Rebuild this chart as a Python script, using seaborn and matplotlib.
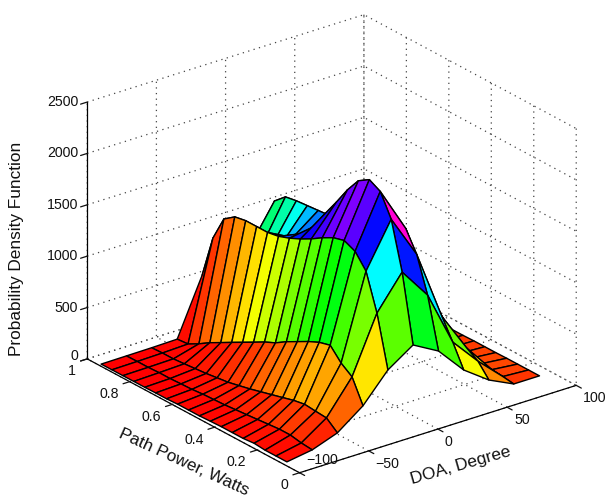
import numpy as np
import matplotlib
matplotlib.use("Agg")
import matplotlib.pyplot as plt
from matplotlib.ticker import FixedLocator, NullFormatter
from mpl_toolkits.mplot3d import proj3d
import seaborn as sns

doa = [-98, -79.7, -61.5, -43, -25, -6.8, 11.6, 29.8, 48, 66, 84.6]
power = [0.075, 0.1265, 0.178, 0.2295, 0.281, 0.3325, 0.384, 0.4355, 0.487, 0.5385,
         0.59, 0.6415, 0.693, 0.7445, 0.796, 0.8475, 0.899, 0.95]
col0 = [19, 19, 19, 29, 19, 19, 19, 15, 10, 10, 10, 5, 5, 3, 3, 2, 2, 1]
col1 = [58, 68, 88, 88, 78, 68, 58, 49, 39, 34, 29, 19, 15, 10, 10, 5, 5, 3]
col2 = [146, 234, 243, 253, 234, 204, 175, 146, 117, 92, 68, 54, 39, 29, 19, 10, 10, 5]
col3 = [331, 555, 632, 749, 720, 671, 613, 555, 487, 438, 379, 321, 263, 204, 146, 78, 19, 10]
col4 = [603, 1099, 1450, 1586, 1635, 1605, 1547, 1479, 1421, 1372, 1333, 1314, 1314, 1314, 1294, 1216, 973, 555]
col5 = [769, 1421, 1878, 2092, 2150, 2082, 1936, 1761, 1596, 1411, 1284, 1187, 1070, 973, 895, 856, 584, 292]
col6 = [632, 1119, 1460, 1654, 1674, 1605, 1537, 1479, 1430, 1411, 1382, 1372, 1362, 1352, 1333, 1236, 876, 438]
col7 = [370, 584, 778, 924, 973, 973, 924, 876, 827, 778, 730, 681, 632, 584, 487, 389, 243, 97]
col8 = [195, 321, 389, 389, 370, 341, 311, 292, 272, 253, 234, 214, 195, 175, 136, 97, 58, 29]
col9 = [80, 95, 105, 105, 100, 90, 85, 80, 75, 70, 65, 60, 55, 50, 45, 39, 29, 19]
col10 = [80, 80, 80, 80, 78, 78, 78, 75, 75, 70, 65, 60, 55, 50, 40, 30, 20, 10]
x_ticks = [-100, -50, 0, 50, 100]
x_tick_labels = ["\u2212100", "\u221250", "0", "50", "100"]
y_ticks = [0, 0.2, 0.4, 0.6, 0.8, 1]
y_tick_labels = ["0", "0.2", "0.4", "0.6", "0.8", "1"]
z_ticks = [0, 500, 1000, 1500, 2000, 2500]
z_tick_labels = ["0", "500", "1000", "1500", "2000", "2500"]

sns.set_style("white")
plt.rcParams["font.family"] = ["Liberation Sans", "DejaVu Sans"]
plt.rcParams["xtick.bottom"] = True
plt.rcParams["ytick.left"] = True
W, H = 607, 497
fig = plt.figure(figsize=(W / 100, H / 100), dpi=100)
ax = fig.add_axes([0, 0, 1, 1], projection="3d", proj_type="ortho", computed_zorder=False)
ax.view_init(elev=24.3, azim=-127.5)
ax.set_box_aspect((349, 349, 282), zoom=1)
ax.set_xlim(-100, 100)
ax.set_ylim(0, 1)
ax.set_zlim(0, 2500)
ax.patch.set_alpha(0)
fig.patch.set_facecolor("white")

Z = np.array([col0, col1, col2, col3, col4, col5, col6, col7, col8, col9, col10], float).T
X, Y = np.meshgrid(doa, power)
cmap = sns.color_palette("hsv", as_cmap=True)
face = cmap(np.clip(Z / Z.max(), 0, 0.999))
# painter's order: far cells first, so a ridge always covers what lies behind it
order = 0
for i in range(Z.shape[1] - 2, -1, -1):
    for j in range(Z.shape[0] - 2, -1, -1):
        order += 1
        ax.plot_surface(X[j:j + 2, i:i + 2], Y[j:j + 2, i:i + 2], Z[j:j + 2, i:i + 2],
                        rstride=1, cstride=1, facecolors=face[j:j + 2, i:i + 2], shade=False,
                        edgecolor="black", linewidth=1.0, antialiased=True, zorder=order)

for axis, ticks in ((ax.xaxis, x_ticks), (ax.yaxis, y_ticks), (ax.zaxis, z_ticks)):
    axis.set_major_locator(FixedLocator(ticks))
    axis.set_major_formatter(NullFormatter())
    axis.pane.set_visible(False)
    axis._axinfo["grid"].update(color="#444444", linestyle=(0, (1, 3.5)), linewidth=0.9)
    axis._axinfo["tick"].update(inward_factor=0.0, outward_factor=-0.3,
                                linewidth={True: 0.9, False: 0.5})
    axis._axinfo["axisline"]["linewidth"] = 1.0
    axis.line.set_color("black")
    axis.line.set_linewidth(0.9)
ax.grid(True)
ax.tick_params(axis="both", colors="#111111", width=0.9, bottom=True, left=True)


def to_px(p):
    fig.canvas.draw()
    a, b, _ = proj3d.proj_transform(*p, ax.get_proj())
    return np.asarray(ax.transData.transform((a, b)))


targets = np.array([[87, H - 357], [300, H - 473], [576, H - 387]], float)
S = float(min(W, H))
cx, cy = W / 2, H / 2
for _ in range(3):
    ax.set_position([(cx - S / 2) / W, (cy - S / 2) / H, S / W, S / H])
    c = np.array([to_px(p) for p in ((-100, 1, 0), (-100, 0, 0), (100, 0, 0))])
    S *= (targets[2, 0] - targets[0, 0]) / (c[2, 0] - c[0, 0])
    cx += (targets.mean(0) - c.mean(0))[0]
    cy += (targets.mean(0) - c.mean(0))[1]
ax.set_position([(cx - S / 2) / W, (cy - S / 2) / H, S / W, S / H])


def tick_text(p, text, dx, dy, ha):
    px = to_px(p)
    ax.text2D((px[0] + dx) / W, (px[1] - dy) / H, text, fontsize=10.2, color="#111111",
              ha=ha, va="center", transform=fig.transFigure)


for n, (v, t) in enumerate(zip(x_ticks, x_tick_labels)):
    tick_text((v, 0, 0), t, 7, -13 if n == 0 else 13, "left")
for v, t in zip(y_ticks, y_tick_labels):
    tick_text((-100, v, 0), t, -11, 12.5, "right")
for v, t in zip(z_ticks, z_tick_labels):
    tick_text((-100, 1, v), t, -9, -3 if v == 0 else 0, "right")

lab = dict(fontsize=12.4, color="#111111", ha="center", va="center",
           rotation_mode="anchor", transform=fig.transFigure)
ax.text2D(461 / W, 1 - 466 / H, "DOA, Degree", rotation=16, **lab)
ax.text2D(184 / W, 1 - 462 / H, "Path Power, Watts", rotation=-24.5, **lab)
ax.text2D(17 / W, 1 - 249 / H, "Probability Density Function", rotation=90, **lab)
fig.savefig("out.png", dpi=100)
